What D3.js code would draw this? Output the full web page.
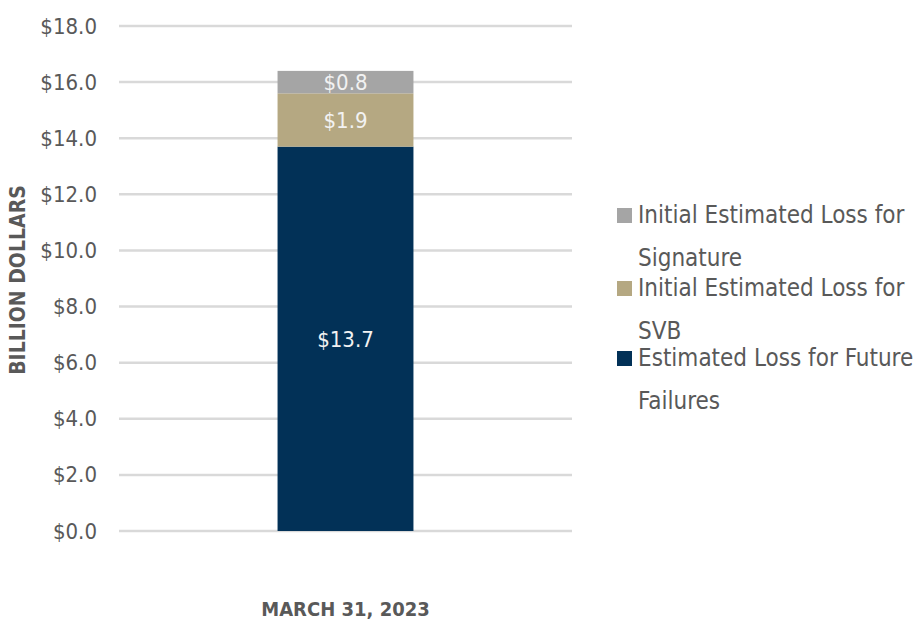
<!DOCTYPE html>
<html>
<head>
<meta charset="utf-8">
<script src="https://cdn.jsdelivr.net/npm/d3@7"></script>
<style>
  body { margin: 0; background: #fff; }
  svg text { font-family: "DejaVu Sans Condensed", "Liberation Sans Narrow", sans-serif; }
</style>
</head>
<body>
<div id="chart-area"></div>
<script>
// Data
const categories = ['MARCH 31, 2023'];
const seriesNames = ['Estimated Loss for Future Failures', 'Initial Estimated Loss for SVB', 'Initial Estimated Loss for Signature'];
const futureFailures = [13.7];
const svb = [1.9];
const signature = [0.8];
const yTicks = [0, 2, 4, 6, 8, 10, 12, 14, 16, 18];
const colors = ['#023157', '#B5A882', '#A5A5A5'];

// Legend lines (order as drawn, top to bottom)
const legendItems = [
    { name: seriesNames[2], lines: ['Initial Estimated Loss for', 'Signature'], color: colors[2] },
    { name: seriesNames[1], lines: ['Initial Estimated Loss for', 'SVB'], color: colors[1] },
    { name: seriesNames[0], lines: ['Estimated Loss for Future', 'Failures'], color: colors[0] }
];

const W = 917, H = 621;
const margin = { left: 119, right: 345, top: 26, bottom: 90 };
const width = W - margin.left - margin.right;
const height = H - margin.top - margin.bottom;

const svg = d3.select('#chart-area')
    .append('svg')
    .attr('width', W)
    .attr('height', H);

const g = svg.append('g')
    .attr('transform', 'translate(' + margin.left + ', ' + margin.top + ')');

// Scales
const x = d3.scaleBand()
    .domain(categories)
    .range([0, width])
    .paddingInner(0.7)
    .paddingOuter(0.35);

const y = d3.scaleLinear()
    .domain([0, 18])
    .range([height, 0]);

// Gridlines
g.append('g')
    .selectAll('line')
    .data(yTicks)
    .enter()
    .append('line')
    .attr('x1', 0)
    .attr('x2', width)
    .attr('y1', (d) => y(d))
    .attr('y2', (d) => y(d))
    .attr('stroke', '#D9D9D9')
    .attr('stroke-width', 2.5);

// Y Axis
const yAxisCall = d3.axisLeft(y)
    .tickValues(yTicks)
    .tickSize(0)
    .tickPadding(22)
    .tickFormat((d) => '$' + d.toFixed(1));
const yAxis = g.append('g')
    .attr('class', 'y axis')
    .call(yAxisCall);
yAxis.select('.domain').remove();
yAxis.selectAll('text')
    .attr('font-size', '22px')
    .attr('fill', '#595959')
    .style('font-family', '"DejaVu Sans Condensed", sans-serif');

// X label
g.append('text')
    .attr('x', x(categories[0]) + x.bandwidth() / 2)
    .attr('y', height + 85)
    .attr('text-anchor', 'middle')
    .attr('font-size', '20px')
    .attr('font-weight', 'bold')
    .attr('fill', '#595959')
    .text(categories[0]);

// Y Label
g.append('text')
    .attr('transform', 'rotate(-90)')
    .attr('x', -254)
    .attr('y', -94)
    .attr('text-anchor', 'middle')
    .attr('font-size', '21px')
    .attr('font-weight', 'bold')
    .attr('fill', '#595959')
    .text('BILLION DOLLARS');

// Stack
const table = categories.map((c, i) => ({
    category: c,
    future: futureFailures[i],
    svb: svb[i],
    signature: signature[i]
}));
const keys = ['future', 'svb', 'signature'];
const stacked = d3.stack().keys(keys)(table);

const layers = g.selectAll('.layer')
    .data(stacked)
    .enter()
    .append('g')
    .attr('class', 'layer')
    .attr('fill', (d, i) => colors[i]);

layers.selectAll('rect')
    .data((d) => d)
    .enter()
    .append('rect')
    .attr('x', (d) => x(d.data.category))
    .attr('width', x.bandwidth())
    .attr('y', (d) => y(d[1]))
    .attr('height', (d) => y(d[0]) - y(d[1]));

// Value labels
layers.selectAll('text')
    .data((d) => d)
    .enter()
    .append('text')
    .attr('x', (d) => x(d.data.category) + x.bandwidth() / 2)
    .attr('y', (d) => (y(d[0]) + y(d[1])) / 2)
    .attr('dy', '0.35em')
    .attr('text-anchor', 'middle')
    .attr('font-size', '22px')
    .attr('fill', '#F2F2F2')
    .text((d) => '$' + (d[1] - d[0]).toFixed(1));

// Legend
const legend = svg.append('g')
    .attr('transform', 'translate(617, 215)');

const entryY = [0, 73, 143];
legendItems.forEach((item, i) => {
    const e = legend.append('g')
        .attr('transform', 'translate(0, ' + entryY[i] + ')');
    e.append('rect')
        .attr('x', 0)
        .attr('y', -7)
        .attr('width', 15)
        .attr('height', 15)
        .attr('fill', item.color);
    item.lines.forEach((line, j) => {
        e.append('text')
            .attr('x', 21)
            .attr('y', j * 43)
            .attr('dy', '0.35em')
            .attr('font-size', '24px')
            .attr('fill', '#595959')
            .text(line);
    });
});
</script>
</body>
</html>
